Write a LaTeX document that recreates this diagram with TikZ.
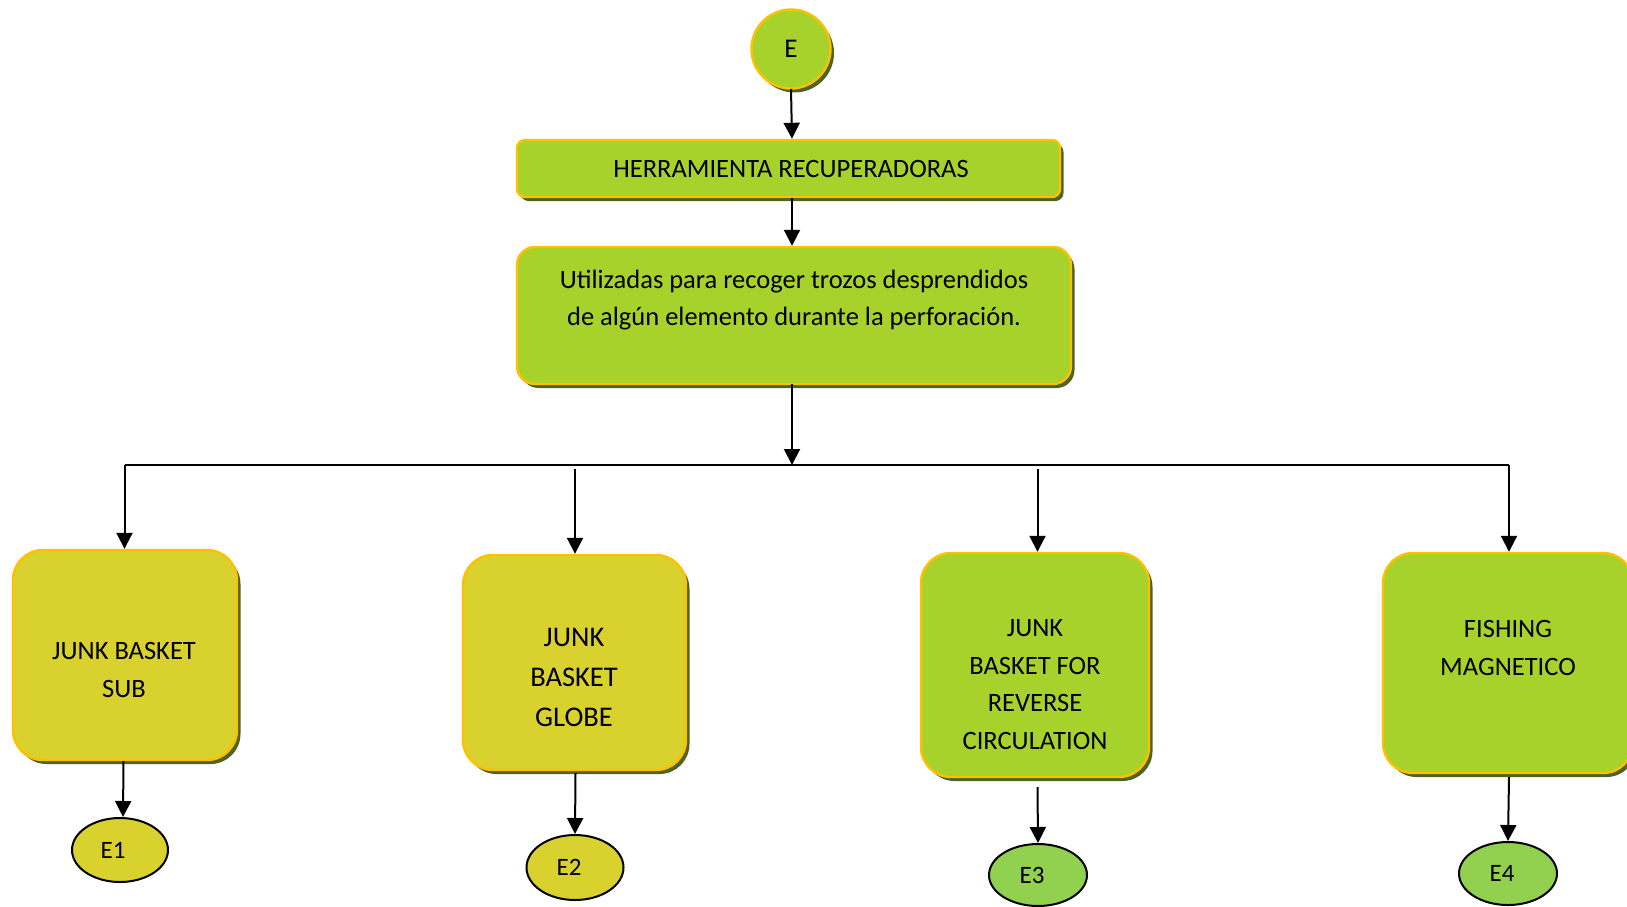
\documentclass[tikz,border=0pt]{standalone}
\usepackage{fontspec}
\setmainfont{Carlito}
\usetikzlibrary{arrows.meta,shadows,calc,shapes.geometric}
\definecolor{lgreen}{HTML}{A6D22B}
\definecolor{ygreen}{HTML}{D9D12E}
\definecolor{egreen}{HTML}{92D050}
\definecolor{bord}{HTML}{FFC000}
\definecolor{shad}{HTML}{4F6228}
\begin{document}
\begin{tikzpicture}[x=1pt,y=-1pt,
  box/.style={draw=bord, line width=2.4pt, fill=#1, inner sep=0pt,
    drop shadow={shadow xshift=3.5pt, shadow yshift=-4pt, fill=shad, opacity=1}},
  txt/.style={align=center, inner sep=0pt, font=\fontsize{26.5}{37.4}\selectfont},
  oval/.style={ellipse, draw=black, line width=2pt, fill=#1, inner sep=0pt,
    font=\fontsize{25}{28}\selectfont},
  arr/.style={draw=black, line width=2pt, -{Triangle[length=16pt,width=16pt]}},
  ln/.style={draw=black, line width=2pt}]
\useasboundingbox (0,0) rectangle (1627,906);

% top
\node[box=lgreen, circle, minimum size=79pt, font=\fontsize{27}{30}\selectfont] (E) at (791,49) {E};
\node[box=lgreen, rectangle, rounded corners=8pt, minimum width=543pt, minimum height=57pt] (H) at (788.5,168.5) {};
\node[txt] (Ht) at (791,169) {HERRAMIENTA RECUPERADORAS};
\node[box=lgreen, rectangle, rounded corners=18pt, minimum width=554pt, minimum height=137pt] (D) at (794,315.5) {};
\node[txt] (Dt) at (794,300) {Utilizadas para recoger trozos desprendidos\\de algún elemento durante la perforación.};

% bottom boxes
\node[box=ygreen, rectangle, rounded corners=30pt, minimum width=224pt, minimum height=210pt] (B1) at (125,655) {};
\node[txt] (B1t) at (124,670) {JUNK BASKET\\SUB};
\node[box=ygreen, rectangle, rounded corners=30pt, minimum width=223pt, minimum height=215pt] (B2) at (574.5,662.5) {};
\node[txt, font=\fontsize{28.5}{40}\selectfont] (B2t) at (574,677) {JUNK\\BASKET\\GLOBE};
\node[box=lgreen, rectangle, rounded corners=30pt, minimum width=228pt, minimum height=224pt] (B3) at (1035,665) {};
\node[txt] (B3t) at (1035,684.5) {JUNK\\BASKET FOR\\REVERSE\\CIRCULATION};
\node[box=lgreen, rectangle, rounded corners=30pt, minimum width=250pt, minimum height=220pt] (B4) at (1508,663) {};
\node[txt] (B4t) at (1508,648) {FISHING\\MAGNETICO};

% ellipses
\node[oval=ygreen, minimum width=96pt, minimum height=64pt] (E1) at (120,850) {E1\hspace*{14pt}};
\node[oval=ygreen, minimum width=97pt, minimum height=65pt] (E2) at (575,867.5) {E2\hspace*{12pt}};
\node[oval=egreen, minimum width=98pt, minimum height=62pt] (E3) at (1038,875) {E3\hspace*{12pt}};
\node[oval=egreen, minimum width=98pt, minimum height=63pt] (E4) at (1508,873.5) {E4\hspace*{12pt}};

% connectors
\coordinate (bus) at (792,465);
\coordinate (busL) at (124.5,465);
\coordinate (busR) at (1509,465);
\coordinate (s2) at (575,469);
\coordinate (s3) at (1037.5,469);
\coordinate (Eb) at (791,89);
\coordinate (Hb) at (792,198);
\coordinate (Db) at (792,384);
\draw[arr] (Eb) -- ($(H.north)+(3.5,0)$);
\draw[arr] (Hb) -- (Hb |- D.north);
\draw[arr] (Db) -- (bus);
\draw[ln] (busL) -- (busR);
\draw[arr] (busL) -- (busL |- B1.north);
\draw[arr] (s2) -- (s2 |- B2.north);
\draw[arr] (s3) -- (s3 |- B3.north);
\draw[arr] (busR) -- (busR |- B4.north);
\draw[arr] ($(B1.south)+(-1.5,0)$) -- ($(E1.north)+(3,0)$);
\draw[arr] ($(B2.south)+(1,2)$) -- (E2.north);
\draw[arr] ($(B3.south)+(2.5,9)$) -- ($(E3.north)+(0,0)$);
\draw[arr] ($(B4.south)+(1,3)$) -- (E4.north);
\end{tikzpicture}
\end{document}
